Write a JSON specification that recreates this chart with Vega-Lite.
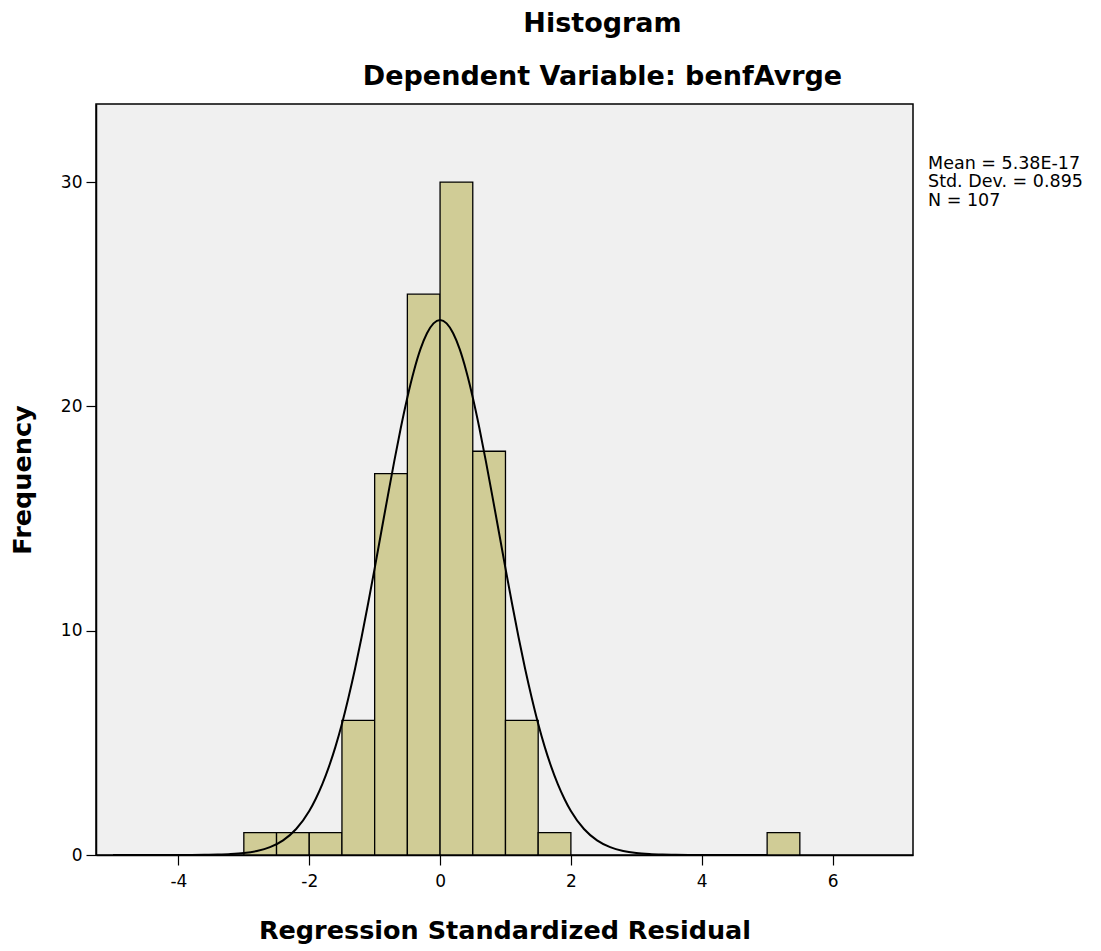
{
  "$schema": "https://vega.github.io/schema/vega-lite/v6.json",
  "width": 817,
  "height": 751,
  "autosize": {"type": "none"},
  "padding": {"left": 96, "top": 104, "right": 188, "bottom": 96},
  "background": "white",
  "config": {
    "font": "DejaVu Sans",
    "view": {"fill": "#f0f0f0", "stroke": "#000000", "strokeWidth": 1.5},
    "axis": {
      "grid": false,
      "domainColor": "#000000",
      "domainWidth": 1.5,
      "tickColor": "#000000",
      "tickWidth": 1.2,
      "tickSize": 10,
      "labelFont": "DejaVu Sans",
      "labelFontSize": 17,
      "labelColor": "#000000",
      "labelExpr": "'' + datum.value",
      "titleFont": "DejaVu Sans",
      "titleFontSize": 25.5,
      "titleFontWeight": "bold",
      "titleColor": "#000000"
    }
  },
  "title": {
    "text": ["Histogram", "Dependent Variable: benfAvrge"],
    "font": "DejaVu Sans",
    "fontSize": 27,
    "fontWeight": "bold",
    "color": "#000000",
    "lineHeight": 53,
    "anchor": "middle",
    "dx": 98,
    "offset": 13
  },
  "datasets": {
    "bins": [
      {"bin_start": -3.0, "bin_end": -2.5, "count": 1},
      {"bin_start": -2.5, "bin_end": -2.0, "count": 1},
      {"bin_start": -2.0, "bin_end": -1.5, "count": 1},
      {"bin_start": -1.5, "bin_end": -1.0, "count": 6},
      {"bin_start": -1.0, "bin_end": -0.5, "count": 17},
      {"bin_start": -0.5, "bin_end": 0.0, "count": 25},
      {"bin_start": 0.0, "bin_end": 0.5, "count": 30},
      {"bin_start": 0.5, "bin_end": 1.0, "count": 18},
      {"bin_start": 1.0, "bin_end": 1.5, "count": 6},
      {"bin_start": 1.5, "bin_end": 2.0, "count": 1},
      {"bin_start": 5.0, "bin_end": 5.5, "count": 1}
    ],
    "normal": [
      {"x": -5.0, "y": 0.0},
      {"x": -4.0, "y": 0.0011},
      {"x": -3.8, "y": 0.0029},
      {"x": -3.6, "y": 0.0073},
      {"x": -3.4, "y": 0.0175},
      {"x": -3.2, "y": 0.040},
      {"x": -3.0, "y": 0.0866},
      {"x": -2.8, "y": 0.179},
      {"x": -2.6, "y": 0.351},
      {"x": -2.4, "y": 0.655},
      {"x": -2.2, "y": 1.16},
      {"x": -2.0, "y": 1.96},
      {"x": -1.9, "y": 2.51},
      {"x": -1.8, "y": 3.16},
      {"x": -1.7, "y": 3.93},
      {"x": -1.6, "y": 4.82},
      {"x": -1.5, "y": 5.85},
      {"x": -1.4, "y": 7.02},
      {"x": -1.3, "y": 8.30},
      {"x": -1.2, "y": 9.71},
      {"x": -1.1, "y": 11.21},
      {"x": -1.0, "y": 12.78},
      {"x": -0.9, "y": 14.39},
      {"x": -0.8, "y": 15.99},
      {"x": -0.7, "y": 17.56},
      {"x": -0.6, "y": 19.05},
      {"x": -0.5, "y": 20.40},
      {"x": -0.4, "y": 21.58},
      {"x": -0.3, "y": 22.55},
      {"x": -0.2, "y": 23.26},
      {"x": -0.1, "y": 23.70},
      {"x": 0.0, "y": 23.85},
      {"x": 0.1, "y": 23.70},
      {"x": 0.2, "y": 23.26},
      {"x": 0.3, "y": 22.55},
      {"x": 0.4, "y": 21.58},
      {"x": 0.5, "y": 20.40},
      {"x": 0.6, "y": 19.05},
      {"x": 0.7, "y": 17.56},
      {"x": 0.8, "y": 15.99},
      {"x": 0.9, "y": 14.39},
      {"x": 1.0, "y": 12.78},
      {"x": 1.1, "y": 11.21},
      {"x": 1.2, "y": 9.71},
      {"x": 1.3, "y": 8.30},
      {"x": 1.4, "y": 7.02},
      {"x": 1.5, "y": 5.85},
      {"x": 1.6, "y": 4.82},
      {"x": 1.7, "y": 3.93},
      {"x": 1.8, "y": 3.16},
      {"x": 1.9, "y": 2.51},
      {"x": 2.0, "y": 1.96},
      {"x": 2.2, "y": 1.16},
      {"x": 2.4, "y": 0.655},
      {"x": 2.6, "y": 0.351},
      {"x": 2.8, "y": 0.179},
      {"x": 3.0, "y": 0.0866},
      {"x": 3.2, "y": 0.040},
      {"x": 3.4, "y": 0.0175},
      {"x": 3.6, "y": 0.0073},
      {"x": 3.8, "y": 0.0029},
      {"x": 4.0, "y": 0.0011},
      {"x": 5.0, "y": 0.0}
    ],
    "stats": [
      {"summary": "Mean = 5.38E-17\nStd. Dev. = 0.895\nN = 107"}
    ]
  },
  "layer": [
    {
      "data": {"name": "bins"},
      "mark": {"type": "bar", "fill": "#d0cc96", "stroke": "#000000", "strokeWidth": 1.3},
      "encoding": {
        "x": {
          "field": "bin_start",
          "type": "quantitative",
          "scale": {"domain": [-5.26, 7.23], "nice": false, "zero": false},
          "axis": {"values": [-4, -2, 0, 2, 4, 6], "title": "Regression Standardized Residual", "labelPadding": 8, "titlePadding": 29}
        },
        "x2": {"field": "bin_end"},
        "y": {
          "field": "count",
          "type": "quantitative",
          "scale": {"domain": [0, 33.48], "nice": false},
          "axis": {"values": [0, 10, 20, 30], "title": "Frequency", "labelPadding": 4, "titlePadding": 25}
        },
        "y2": {"datum": 0}
      }
    },
    {
      "data": {"name": "normal"},
      "mark": {"type": "line", "stroke": "#000000", "strokeWidth": 2, "interpolate": "monotone", "clip": true},
      "encoding": {
        "x": {"field": "x", "type": "quantitative"},
        "y": {"field": "y", "type": "quantitative"}
      }
    },
    {
      "data": {"name": "stats"},
      "mark": {"type": "text", "align": "left", "baseline": "alphabetic", "fontSize": 17.5, "lineHeight": 18.5, "lineBreak": "\n", "color": "#000000", "clip": false},
      "encoding": {
        "x": {"datum": 7.46, "type": "quantitative"},
        "y": {"datum": 30.6, "type": "quantitative"},
        "text": {"field": "summary"}
      }
    }
  ]
}
